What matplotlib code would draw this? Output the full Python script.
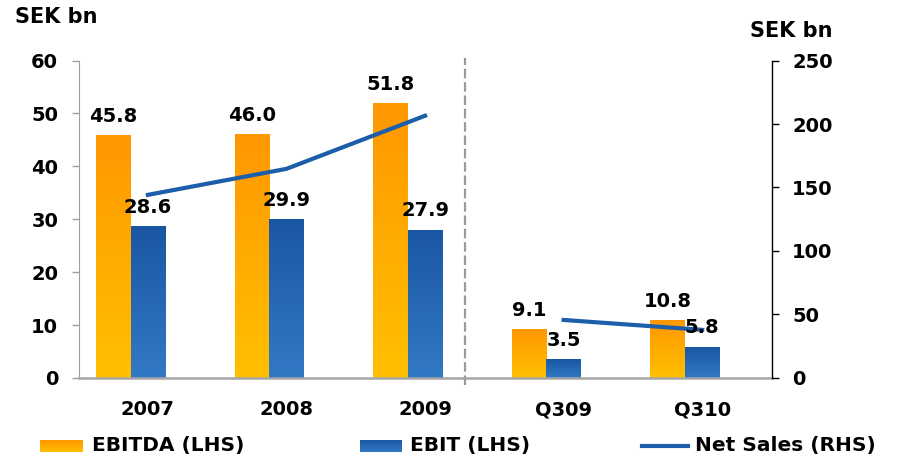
import numpy as np
import matplotlib.pyplot as plt
from matplotlib.colors import LinearSegmentedColormap

# values in SEK bn
periods = ['2007', '2008', '2009', 'Q309', 'Q310']
ebitda = [45.8, 46.0, 51.8, 9.1, 10.8]
ebit = [28.6, 29.9, 27.9, 3.5, 5.8]
net_sales = [144.2, 164.7, 206.5, 45.7, 37.9]

plt.rcParams['font.family'] = 'DejaVu Sans'
plt.rcParams['font.weight'] = 'bold'
plt.rcParams['font.size'] = 14

orange_cm = LinearSegmentedColormap.from_list('orange', ['#FF9700', '#FFC000'])
blue_cm = LinearSegmentedColormap.from_list('blue', ['#1A57A2', '#3279C5'])
line_col = '#1D5EAB'
grad = np.linspace(0, 1, 256).reshape(-1, 1)

fig = plt.figure(figsize=(8.99, 4.57), dpi=100)
ax = fig.add_axes([0.0879, 0.1729, 0.7709, 0.6947])
ax2 = ax.twinx()

x = np.arange(len(periods))
w = 0.25


def gradient_bars(bars, cmap):
    # paint each bar with its own top-to-bottom gradient
    for b in bars:
        x0, y0 = b.get_xy()
        ax.imshow(grad, cmap=cmap, aspect='auto', zorder=2,
                  extent=[x0, x0 + b.get_width(), y0, y0 + b.get_height()])


b1 = ax.bar(x - w / 2, ebitda, w, facecolor='none', edgecolor='none')
b2 = ax.bar(x + w / 2, ebit, w, facecolor='none', edgecolor='none')
gradient_bars(b1, orange_cm)
gradient_bars(b2, blue_cm)

ax.set_xlim(-0.372, 4.629)
ax.set_ylim(0, 60)
ax.set_yticks(range(0, 61, 10))
ax.set_xticks(x + w / 2, periods)
ax.tick_params(axis='x', length=0, pad=16)
ax.tick_params(axis='y', color='#A0A0A0', length=5, width=1, pad=10)
for s in ['top', 'right']:
    ax.spines[s].set_visible(False)
ax.spines['left'].set_color('#A0A0A0')
ax.spines['bottom'].set_color('#A6A6A6')
ax.spines['bottom'].set_linewidth(1.8)

# separator between full years and quarters
ax.plot([2.41, 2.41], [-0.022, 1.008], transform=ax.get_xaxis_transform(),
        clip_on=False, color='#999999', lw=1.6, ls=(0, (4.3, 1.7)), zorder=1)

# net sales on the right hand scale
ax2.plot(x[:3] + w / 2, net_sales[:3], color=line_col, lw=3)
ax2.plot(x[3:] + w / 2, net_sales[3:], color=line_col, lw=3)
ax2.set_ylim(0, 250)
ax2.set_yticks(range(0, 251, 50))
ax2.tick_params(axis='y', color='black', length=5, width=1, pad=9.5)
for s in ['top', 'left', 'bottom']:
    ax2.spines[s].set_visible(False)
ax2.spines['right'].set_linewidth(1)

for i in range(len(periods)):
    ax2.annotate(f'{ebitda[i]:.1f}', (x[i] - w / 2, ebitda[i]), xycoords=ax.transData,
                 xytext=(0, 10), textcoords='offset points', ha='center', va='baseline', zorder=5)
    ax2.annotate(f'{ebit[i]:.1f}', (x[i] + w / 2, ebit[i]), xycoords=ax.transData,
                 xytext=(0, 10), textcoords='offset points', ha='center', va='baseline', zorder=5)

fig.text(15 / 899, 1 - 17 / 457, 'SEK bn', ha='left', va='center', fontsize=15)
fig.text(750 / 899, 1 - 31 / 457, 'SEK bn', ha='left', va='center', fontsize=15)

# legend strip along the bottom
leg = fig.add_axes([0, 0, 1, 40 / 457])
leg.axis('off')
leg.imshow(grad, cmap=orange_cm, aspect='auto', extent=[40, 83, 5, 17])
leg.imshow(grad, cmap=blue_cm, aspect='auto', extent=[360, 402, 5, 17])
leg.plot([642, 688], [11, 11], color=line_col, lw=3)
leg.set_xlim(0, 899)
leg.set_ylim(0, 40)
leg.text(92, 11, 'EBITDA (LHS)', va='center', ha='left', fontsize=14.5)
leg.text(410, 11, 'EBIT (LHS)', va='center', ha='left', fontsize=14.5)
leg.text(695, 11, 'Net Sales (RHS)', va='center', ha='left', fontsize=14.5)

fig.savefig('out.png', dpi=100)
